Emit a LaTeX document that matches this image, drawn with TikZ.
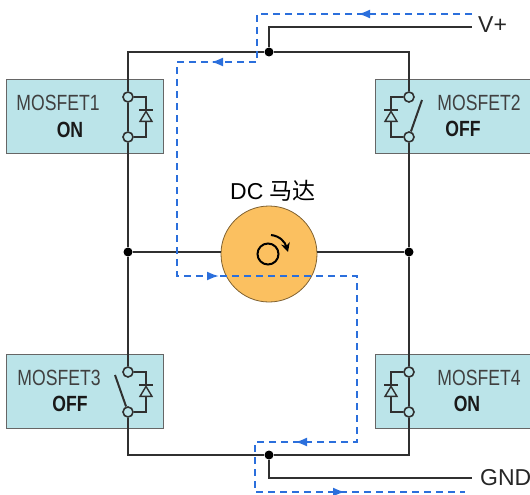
\documentclass[tikz,border=0pt]{standalone}
\usepackage{fontspec}
\setmainfont{Liberation Sans}
\newfontfamily\narrowfont[FakeStretch=0.8]{Liberation Sans}
\newfontfamily\cjk{Noto Sans CJK SC}
\usetikzlibrary{calc,positioning,shapes.geometric,arrows.meta}

\begin{document}
\begin{tikzpicture}[
    x=1pt,y=-1pt,
    % general settings
    align=center,
    % nodes
    fetbox/.style={rectangle, draw=black!60, line width=1pt, fill=fetblue, minimum width=157pt, minimum height=74pt, anchor=north west, inner sep=0pt},
    fetname/.style={text=black!75, font=\narrowfont\fontsize{22}{24}\selectfont, inner sep=0pt},
    fetstate/.style={text=black!90, font=\narrowfont\bfseries\fontsize{22}{24}\selectfont, inner sep=0pt},
    terminal/.style={circle, draw=wirecol, line width=1.6pt, fill=fetblue, minimum size=10pt, inner sep=0pt},
    junction/.style={circle, fill=black, minimum size=9pt, inner sep=0pt},
    diode/.style={isosceles triangle, isosceles triangle stretches, shape border rotate=90, draw=wirecol, line width=1.4pt, minimum width=12pt, minimum height=10pt, inner sep=0pt},
    motor/.style={circle, draw=black!50!motorfill, line width=0.8pt, fill=motorfill, minimum size=96pt, inner sep=0pt},
    rail/.style={text=black!85, font=\fontsize{23}{25}\selectfont, inner sep=0pt},
    % arrows
    wire/.style={draw=wirecol, line width=2pt},
    flow/.style={draw=flowblue, line width=2pt, dash pattern=on 7pt off 5pt},
    flowtip/.style={draw=flowblue, line width=2pt, -{Latex[length=12pt,width=9pt]}},
  ]
  \definecolor{fetblue}{HTML}{BBE4E9}
  \definecolor{wirecol}{HTML}{303030}
  \definecolor{motorfill}{HTML}{FBC060}
  \definecolor{flowblue}{HTML}{2B6FDC}

  \useasboundingbox (0,0) rectangle (530,495);
  \clip (0,0) rectangle (530,495);

  % mosfet boxes
  \node (fet1) [fetbox] at (6,79)    {};
  \node (fet2) [fetbox] at (375,79)  {};
  \node (fet3) [fetbox] at (6,354)   {};
  \node (fet4) [fetbox] at (375,354) {};

  \node (name1)  [fetname]  at (58,103)  {MOSFET1};
  \node (state1) [fetstate] at (70,130)  {ON};
  \node (name2)  [fetname]  at (479,103) {MOSFET2};
  \node (state2) [fetstate] at (463,129) {OFF};
  \node (name3)  [fetname]  at (59,378)  {MOSFET3};
  \node (state3) [fetstate] at (70,404)  {OFF};
  \node (name4)  [fetname]  at (479,378) {MOSFET4};
  \node (state4) [fetstate] at (467,404) {ON};

  % rails
  \node (vplus) [rail, anchor=west] at (478,25)  {V+};
  \node (gnd)   [rail, anchor=west] at (480,478) {GND};

  \node (topjoin) [junction] at (269,52)  {};
  \node (botjoin) [junction] at (269,455) {};
  \node (midl)    [junction] at (128,252) {};
  \node (midr)    [junction] at (409,252) {};

  \node (dcm) [motor] at (269,254) {};
  \node (dcmlabel) [rail, text=black, above=4pt of dcm.north, xshift=4pt] {DC {\cjk 马达}};

  % switch terminals
  \node (t1a) [terminal] at (128,97)  {};
  \node (t1b) [terminal] at (128,137) {};
  \node (t2a) [terminal] at (409,97)  {};
  \node (t2b) [terminal] at (409,137) {};
  \node (t3a) [terminal] at (128,372) {};
  \node (t3b) [terminal] at (128,412) {};
  \node (t4a) [terminal] at (409,372) {};
  \node (t4b) [terminal] at (409,412) {};

  % diodes
  \node (d1) [diode] at (146,118) {};
  \node (d2) [diode] at (391,118) {};
  \node (d3) [diode] at (146,393) {};
  \node (d4) [diode] at (391,393) {};

  % wires, top and bottom rails
  \coordinate (vend) at (472,27);
  \coordinate (gend) at (472,478);
  \draw[wire] (topjoin) -- (topjoin |- vend) -- (vend);
  \draw[wire] (botjoin) -- (botjoin |- gend) -- (gend);
  \draw[wire] (t1a) -- (t1a |- topjoin) -- (topjoin);
  \draw[wire] (t2a) -- (t2a |- topjoin) -- (topjoin);
  \draw[wire] (t3b) -- (t3b |- botjoin) -- (botjoin);
  \draw[wire] (t4b) -- (t4b |- botjoin) -- (botjoin);

  % wires, legs and motor
  \draw[wire] (t1b) -- (midl);
  \draw[wire] (midl) -- (t3a);
  \draw[wire] (t2b) -- (midr);
  \draw[wire] (midr) -- (t4a);
  \draw[wire] (midl) -- (midl -| dcm.west);
  \draw[wire] (midr) -- (midr -| dcm.east);

  % closed switches
  \draw[wire] (t1a) -- (t1b);
  \draw[wire] (t4a) -- (t4b);
  % open switches
  \coordinate (sw2) at (422,100);
  \coordinate (sw3) at (115,375);
  \draw[wire] (t2b) -- (sw2);
  \draw[wire] (t3b) -- (sw3);

  % diode bypass
  \draw[wire] (t1a) -| (d1.apex);
  \draw[wire] (t1b) -| (d1.lower side);
  \draw[wire] (t2a) -| (d2.apex);
  \draw[wire] (t2b) -| (d2.lower side);
  \draw[wire] (t3a) -| (d3.apex);
  \draw[wire] (t3b) -| (d3.lower side);
  \draw[wire] (t4a) -| (d4.apex);
  \draw[wire] (t4b) -| (d4.lower side);
  \draw[wire] ($(d1.apex)-(7,0)$) -- ($(d1.apex)+(7,0)$);
  \draw[wire] ($(d2.apex)-(7,0)$) -- ($(d2.apex)+(7,0)$);
  \draw[wire] ($(d3.apex)-(7,0)$) -- ($(d3.apex)+(7,0)$);
  \draw[wire] ($(d4.apex)-(7,0)$) -- ($(d4.apex)+(7,0)$);

  % rotor symbol
  \node (rotor) [circle, draw=black, line width=2pt, minimum size=21pt, inner sep=0pt] at (268,254) {};
  \coordinate (rotstart) at (271,235);
  \coordinate (rotend)   at (288,252);
  \draw[line width=2pt, -{Stealth[length=9pt,width=9pt]}] (rotstart) .. controls (280,236) and (285,242) .. (rotend);

  % current path
  \coordinate (c1) at (472,14);
  \coordinate (c2) at (257,14);
  \coordinate (c3) at (257,62);
  \coordinate (c4) at (177,62);
  \coordinate (c5) at (177,276);
  \coordinate (c6) at (357,276);
  \coordinate (c7) at (357,442);
  \coordinate (c8) at (255,442);
  \coordinate (c9) at (255,492);
  \coordinate (c10) at (465,492);
  \draw[flow] (c1) -- (c2) -- (c3) -- (c4) -- (c5) -- (c6) -- (c7) -- (c8) -- (c9) -- (c10);

  % arrows on the current path
  \draw[flowtip] (368,14)  -- (358,14);
  \draw[flowtip] (221,62)  -- (211,62);
  \draw[flowtip] (208,276) -- (219,276);
  \draw[flowtip] (306,442) -- (295,442);
  \draw[flowtip] (334,492) -- (345,492);

\end{tikzpicture}
\end{document}
